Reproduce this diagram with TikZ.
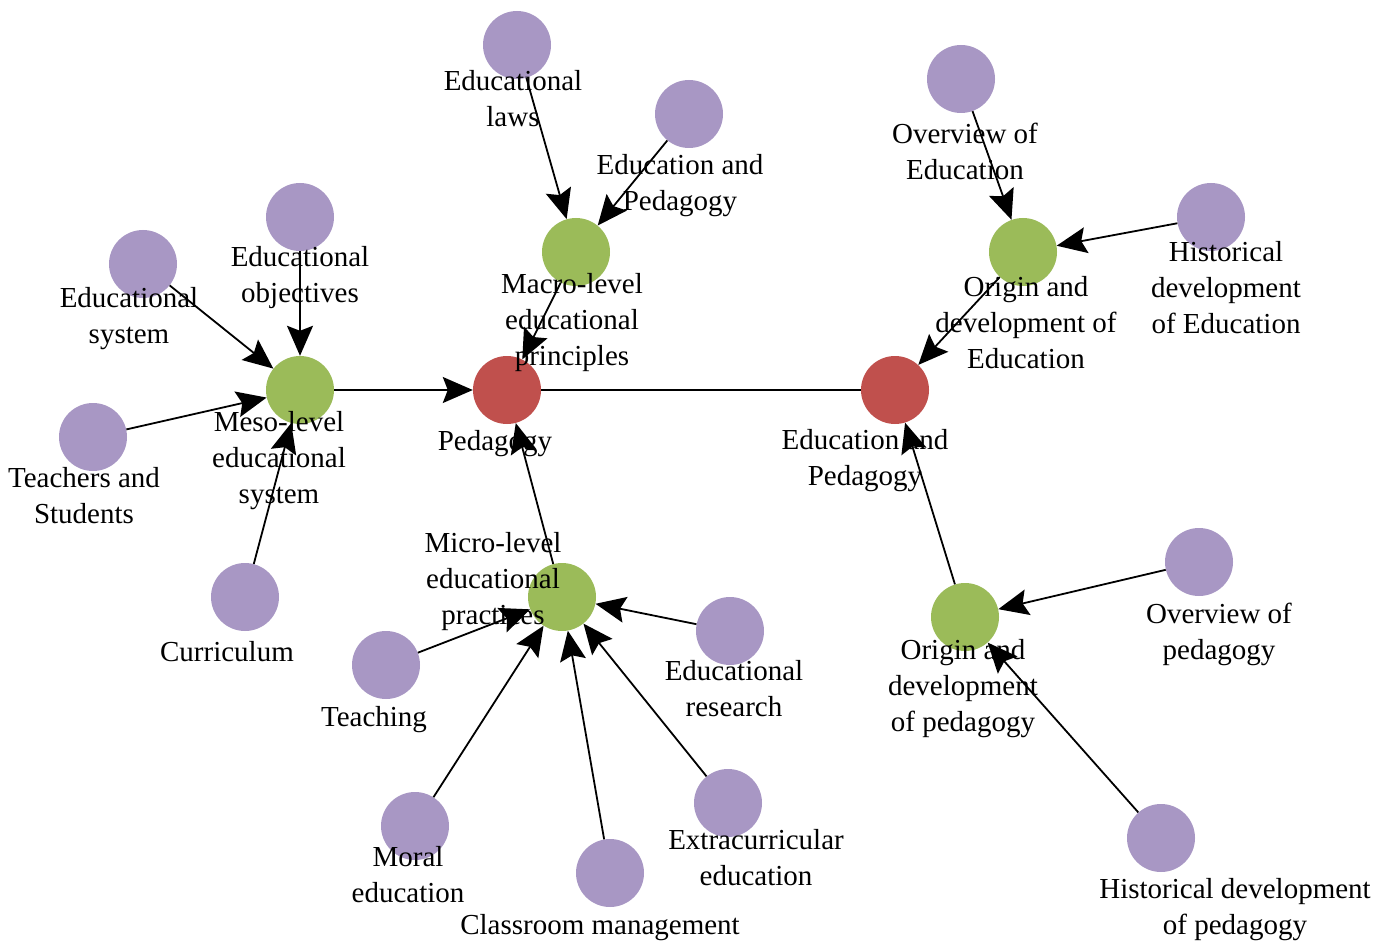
\documentclass[tikz,border=0pt]{standalone}
\usepackage{fontspec}
\setmainfont{Liberation Serif}
\usepackage{tikz}
\usetikzlibrary{arrows.meta,positioning}
\definecolor{rootred}{HTML}{C0504D}
\definecolor{hubgreen}{HTML}{9BBB59}
\definecolor{leafpurple}{HTML}{A897C4}
\tikzset{
  root/.style={circle, fill=rootred, minimum size=68pt, inner sep=0pt},
  hub/.style={circle, fill=hubgreen, minimum size=68pt, inner sep=0pt},
  leaf/.style={circle, fill=leafpurple, minimum size=68pt, inner sep=0pt},
  lbl/.style={align=center, inner sep=0pt, yshift=-3pt, font=\fontsize{29}{36}\selectfont},
  link/.style={line width=1.8pt, -{Stealth[length=30pt,width=26pt,inset=5pt]}},
  plain/.style={line width=1.8pt}
}
\begin{document}
\begin{tikzpicture}[x=1pt,y=-1pt]
\useasboundingbox (0,0) rectangle (1386,941);
% red
\node[root] (ped) at (507,390) {};
\node[root] (eap) at (895,390) {};
% green
\node[hub] (macro) at (576,252) {};
\node[hub] (meso) at (300,390) {};
\node[hub] (micro) at (562,597) {};
\node[hub] (origE) at (1023,252) {};
\node[hub] (origP) at (965,617) {};
% purple
\node[leaf] (laws) at (517,45) {};
\node[leaf] (edup) at (689,114) {};
\node[leaf] (obj) at (300,217) {};
\node[leaf] (sys) at (143,264) {};
\node[leaf] (ts) at (93,437) {};
\node[leaf] (cur) at (245,597) {};
\node[leaf] (teach) at (386,665) {};
\node[leaf] (moral) at (415,826) {};
\node[leaf] (class) at (610,873) {};
\node[leaf] (extra) at (728,803) {};
\node[leaf] (res) at (730,631) {};
\node[leaf] (ovE) at (961,79) {};
\node[leaf] (histE) at (1211,217) {};
\node[leaf] (ovP) at (1199,562) {};
\node[leaf] (histP) at (1161,838) {};

% edges
\draw[plain] (ped) -- (eap);
\draw[link] (laws) -- (macro);
\draw[link] (edup) -- (macro);
\draw[link] (macro) -- (ped);
\draw[link] (obj) -- (meso);
\draw[link] (sys) -- (meso);
\draw[link] (ts) -- (meso);
\draw[link] (cur) -- (meso);
\draw[link] (meso) -- (ped);
\draw[link] (micro) -- (ped);
\draw[link] (teach) -- (micro);
\draw[link] (moral) -- (micro);
\draw[link] (class) -- (micro);
\draw[link] (extra) -- (micro);
\draw[link] (res) -- (micro);
\draw[link] (ovE) -- (origE);
\draw[link] (histE) -- (origE);
\draw[link] (origE) -- (eap);
\draw[link] (origP) -- (eap);
\draw[link] (ovP) -- (origP);
\draw[link] (histP) -- (origP);

% labels
\node[lbl] (pedL) at (495,441) {Pedagogy};
\node[lbl] (eapL) at (865,458) {Education and\\Pedagogy};
\node[lbl] (macroL) at (572,320) {Macro-level\\educational\\principles};
\node[lbl] (mesoL) at (279,458) {Meso-level\\educational\\system};
\node[lbl] (microL) at (493,579) {Micro-level\\educational\\practices};
\node[lbl] (origEL) at (1026,320) {Origin and\\development of\\Education};
\node[lbl] (origPL) at (963,686) {Origin and\\development\\of pedagogy};
\node[lbl] (lawsL) at (513,96) {Educational\\laws};
\node[lbl] (edupL) at (680,183) {Education and\\Pedagogy};
\node[lbl] (objL) at (300,275) {Educational\\objectives};
\node[lbl] (sysL) at (129,316) {Educational\\system};
\node[lbl] (tsL) at (84,493) {Teachers and\\Students};
\node[lbl] (curL) at (227,649) {Curriculum};
\node[lbl] (teachL) at (374,717) {Teaching};
\node[lbl] (moralL) at (408,872) {Moral\\education};
\node[lbl] (classL) at (600,925) {Classroom management};
\node[lbl] (extraL) at (756,855) {Extracurricular\\education};
\node[lbl] (resL) at (734,686) {Educational\\research};
\node[lbl] (ovEL) at (965,148) {Overview of\\Education};
\node[lbl] (histEL) at (1226,285) {Historical\\development\\of Education};
\node[lbl] (ovPL) at (1219,631) {Overview of\\pedagogy};
\node[lbl] (histPL) at (1235,907) {Historical development\\of pedagogy};
\end{tikzpicture}
\end{document}
